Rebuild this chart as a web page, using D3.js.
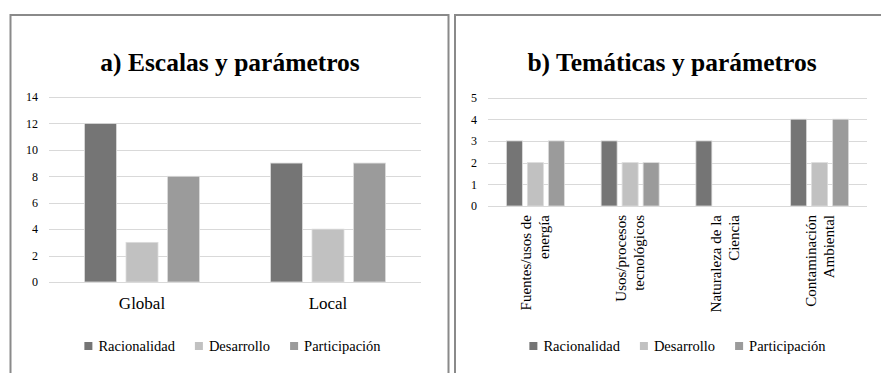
<!DOCTYPE html>
<html>
<head>
<meta charset="utf-8">
<script src="https://cdn.jsdelivr.net/npm/d3@7"></script>
<style>
  html, body { margin: 0; padding: 0; background: #fff; font-family: "Liberation Serif", serif; }
  svg { display: block; }
  svg text { font-family: "Liberation Serif", serif !important; }
</style>
</head>
<body>
<svg id="chart" width="881" height="373" font-family="Liberation Serif"></svg>
<script>
// ---------- data ----------
const seriesNames = ["Racionalidad", "Desarrollo", "Participación"];
const seriesColors = ["#757575", "#c1c1c1", "#9b9b9b"];

const titleA = "a) Escalas y parámetros";
const categoriesA = ["Global", "Local"];
const racionalidadA = [12, 9];
const desarrolloA = [3, 4];
const participacionA = [8, 9];
const ticksA = [0, 2, 4, 6, 8, 10, 12, 14];

const titleB = "b) Temáticas y parámetros";
const categoriesB = [
  ["Fuentes/usos de", "energía"],
  ["Usos/procesos", "tecnológicos"],
  ["Naturaleza de la", "Ciencia"],
  ["Contaminación", "Ambiental"]
];
const racionalidadB = [3, 3, 3, 4];
const desarrolloB = [2, 2, 0, 2];
const participacionB = [3, 2, 0, 4];
const ticksB = [0, 1, 2, 3, 4, 5];

// ---------- drawing ----------
const FONT = "Liberation Serif";
const svg = d3.select("#chart");
svg.append("style").text("text, tspan { font-family: 'Liberation Serif', serif !important; }");

function txt(sel, size, bold) {
  return sel.attr("font-family", FONT)
    .attr("font-size", size)
    .attr("font-weight", bold ? "bold" : "normal")
    .style("font-family", FONT)
    .style("font-size", size + "px")
    .style("font-weight", bold ? "bold" : "normal")
    .attr("fill", "#000");
}

// panel frames
const frame = svg.append("g").attr("fill", "none").attr("stroke", "#8a8a8a").attr("stroke-width", 2);
frame.append("path").attr("d", "M10.5,373 V15 H448.5 V373");
frame.append("path").attr("d", "M455,373 V15 H881");

function drawChart(cfg) {
  const g = svg.append("g").attr("font-family", FONT);
  const x0 = d3.scaleBand().domain(d3.range(cfg.categories.length)).range(cfg.xRange).padding(0);
  const y = d3.scaleLinear().domain([0, d3.max(cfg.ticks)]).range(cfg.yRange);
  const bw = x0.bandwidth();

  // title
  txt(svg.append("text").attr("x", cfg.titleX).attr("y", 71).attr("text-anchor", "middle"), cfg.titleSize, true)
    .text(cfg.title);

  // gridlines
  g.append("g").selectAll("line").data(cfg.ticks).join("line")
    .attr("x1", cfg.xRange[0]).attr("x2", cfg.xRange[1])
    .attr("y1", d => Math.round(y(d)) + 0.5).attr("y2", d => Math.round(y(d)) + 0.5)
    .attr("stroke", "#d9d9d9").attr("stroke-width", 1);

  // y axis labels
  const yAxis = d3.axisLeft(y).tickValues(cfg.ticks).tickSize(0).tickPadding(0).tickFormat(d3.format("d"));
  const ya = g.append("g").attr("transform", `translate(${cfg.yLabelX},0)`).call(yAxis);
  ya.attr("font-family", FONT).attr("font-size", 12);
  ya.select(".domain").remove();
  txt(ya.selectAll("text"), 12, false);

  // bars
  const offsets = [-1, 0, 1];
  cfg.series.forEach((vals, si) => {
    g.append("g").selectAll("rect").data(vals.map((v, i) => ({ v, i })).filter(d => d.v > 0)).join("rect")
      .attr("x", d => x0(d.i) + bw / 2 + offsets[si] * cfg.barStep - cfg.barWidth / 2)
      .attr("width", cfg.barWidth)
      .attr("y", d => y(d.v))
      .attr("height", d => y(0) - y(d.v))
      .attr("fill", seriesColors[si])
      .attr("stroke", "#dcdcdc").attr("stroke-width", 0.8);
  });

  // category labels
  if (cfg.rotated) {
    cfg.categories.forEach((lines, i) => {
      lines.forEach((ln, li) => {
        const px = x0(i) + bw / 2 + (li === 0 ? -4 : 14);
        const py = y(0) + 9;
        txt(svg.append("text"), 15, false)
          .attr("text-anchor", "end")
          .attr("transform", `translate(${px},${py}) rotate(-90)`)
          .text(ln);
      });
    });
  } else {
    cfg.categories.forEach((c, i) => {
      txt(svg.append("text"), 17, false)
        .attr("x", x0(i) + bw / 2).attr("y", 309).attr("text-anchor", "middle").text(c);
    });
  }

  // legend
  const leg = svg.append("g");
  let cx = 0;
  seriesNames.forEach((name, i) => {
    leg.append("rect").attr("x", cx).attr("y", 342).attr("width", 8).attr("height", 8).attr("fill", seriesColors[i]);
    const tx = txt(leg.append("text"), 14.5, false).attr("x", cx + 14).attr("y", 351).text(name);
    const w = tx.node().getComputedTextLength();
    cx += 14 + w + 20;
  });
  const total = cx - 20;
  leg.attr("transform", `translate(${cfg.legendCenter - total / 2},0)`);
}

drawChart({
  title: titleA, titleX: 230, titleSize: 25.5,
  categories: categoriesA,
  series: [racionalidadA, desarrolloA, participacionA],
  ticks: ticksA,
  xRange: [49, 421], yRange: [282, 97],
  yLabelX: 38, barWidth: 32, barStep: 41.5,
  rotated: false, legendCenter: 232.5
});

drawChart({
  title: titleB, titleX: 672, titleSize: 25.5,
  categories: categoriesB,
  series: [racionalidadB, desarrolloB, participacionB],
  ticks: ticksB,
  xRange: [488, 867], yRange: [206, 97.5],
  yLabelX: 477, barWidth: 16, barStep: 21,
  rotated: true, legendCenter: 677.5
});
</script>
</body>
</html>
